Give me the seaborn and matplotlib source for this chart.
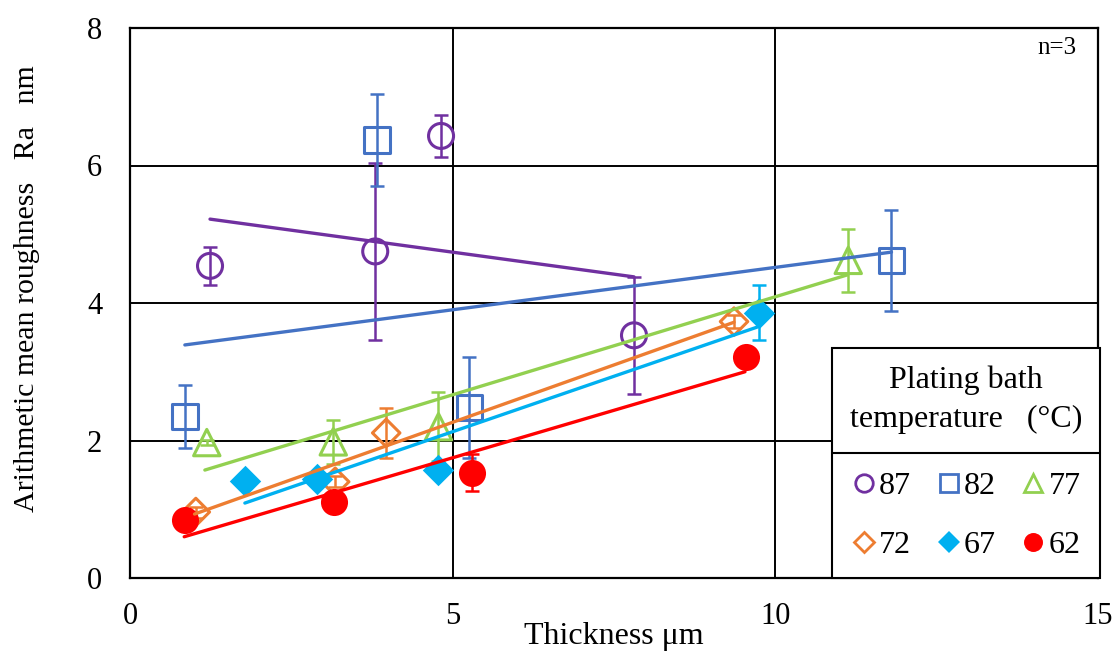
import numpy as np
import pandas as pd
import matplotlib
matplotlib.use("Agg")
import matplotlib.pyplot as plt
from matplotlib.lines import Line2D
import seaborn as sns

# ---- data ----
temps = ["87", "82", "77", "72", "67", "62"]

x87 = [1.24, 3.80, 4.82, 7.81]
y87 = [4.54, 4.75, 6.43, 3.53]
e87 = [0.28, 1.29, 0.30, 0.85]
tx87 = [1.24, 7.81]
ty87 = [5.22, 4.38]

x82 = [0.85, 3.83, 5.26, 11.80]
y82 = [2.35, 6.37, 2.48, 4.62]
e82 = [0.46, 0.67, 0.73, 0.73]
tx82 = [0.85, 11.80]
ty82 = [3.39, 4.74]

x77 = [1.19, 3.15, 4.78, 11.13]
y77 = [1.97, 1.98, 2.20, 4.62]
e77 = [0.04, 0.32, 0.50, 0.46]
tx77 = [1.16, 11.12]
ty77 = [1.57, 4.41]

x72 = [1.02, 3.18, 3.97, 9.36]
y72 = [0.96, 1.40, 2.11, 3.73]
e72 = [0.08, 0.08, 0.36, 0.10]
tx72 = [1.00, 9.36]
ty72 = [0.93, 3.72]

x67 = [1.78, 2.90, 4.78, 9.74]
y67 = [1.41, 1.44, 1.57, 3.86]
e67 = [0.05, 0.08, 0.10, 0.40]
tx67 = [1.78, 9.72]
ty67 = [1.09, 3.65]

x62 = [0.85, 3.16, 5.30, 9.55]
y62 = [0.85, 1.10, 1.53, 3.21]
e62 = [0.04, 0.05, 0.27, 0.05]
tx62 = [0.84, 9.53]
ty62 = [0.60, 3.00]

x_ticks = [0, 5, 10, 15]
y_ticks = [0, 2, 4, 6, 8]

series = [
    ("87", x87, y87, e87, tx87, ty87, "#7030A0", "o", False, 18.0),
    ("82", x82, y82, e82, tx82, ty82, "#4472C4", "s", False, 18.5),
    ("77", x77, y77, e77, tx77, ty77, "#92D050", "^", False, 19.0),
    ("72", x72, y72, e72, tx72, ty72, "#ED7D31", "D", False, 14.0),
    ("67", x67, y67, e67, tx67, ty67, "#00B0F0", "D", True, 16.0),
    ("62", x62, y62, e62, tx62, ty62, "#FF0000", "o", True, 19.5),
]

sns.set_style("white")
plt.rcParams["font.family"] = ["Liberation Serif", "DejaVu Serif"]
plt.rcParams["text.color"] = "black"
plt.rcParams["axes.labelcolor"] = "black"
plt.rcParams["xtick.color"] = "black"
plt.rcParams["ytick.color"] = "black"

fig = plt.figure(figsize=(11.18, 6.57), dpi=100)
ax = fig.add_axes([130 / 1118, 79 / 657, 968 / 1118, 550 / 657])

handles = {}
for lab, xs, ys, es, tx, ty, col, mk, filled, ms in series:
    df = pd.DataFrame({"x": xs, "y": ys})
    ax.errorbar(xs, ys, yerr=es, fmt="none", ecolor=col, elinewidth=1.8,
                capsize=5, capthick=1.8, zorder=3)
    sns.scatterplot(data=df, x="x", y="y", ax=ax, marker=mk, s=ms ** 2,
                    facecolor=(col if filled else "none"), edgecolor=col,
                    linewidth=(0 if filled else 2.2), zorder=4, legend=False)
    tdf = pd.DataFrame({"x": tx, "y": ty})
    sns.lineplot(data=tdf, x="x", y="y", ax=ax, color=col, linewidth=2.4,
                 zorder=5, legend=False)
    handles[lab] = Line2D([], [], linestyle="none", marker=mk,
                          markersize=ms * 0.7,
                          markerfacecolor=(col if filled else "none"),
                          markeredgecolor=col,
                          markeredgewidth=(0 if filled else 2.0),
                          label=lab)

ax.set_xlim(0, 15)
ax.set_ylim(0, 8)
ax.set_xticks(x_ticks)
ax.set_yticks(y_ticks)
ax.set_xticklabels([str(v) for v in x_ticks])
ax.set_yticklabels([str(v) for v in y_ticks])
ax.tick_params(axis="both", length=0, labelsize=22)
ax.tick_params(axis="x", pad=17)
ax.tick_params(axis="y", pad=20)
ax.grid(True, color="black", linewidth=1.4)
ax.set_axisbelow(True)
for sp in ax.spines.values():
    sp.set_visible(True)
    sp.set_color("black")
    sp.set_linewidth(1.6)

ax.set_xlabel("Thickness μm", fontsize=23)
ax.set_ylabel("Arithmetic mean roughness   Ra   nm", fontsize=21.5)
ax.xaxis.set_label_coords(0.5, -0.107)
ax.yaxis.set_label_coords(-0.106, 0.527)
ax.xaxis.label.set_va("center")
ax.yaxis.label.set_va("center")

ax.text(0.978, 0.963, "n=3", transform=ax.transAxes, ha="right", va="center",
        fontsize=18)

# legend filled column-wise -> order so rows read 87 82 77 / 72 67 62
order = ["87", "72", "82", "67", "77", "62"]
leg = ax.legend(handles=[handles[k] for k in order], ncol=3, loc="lower right",
                bbox_to_anchor=(1.002, 0.0), borderaxespad=0.0,
                frameon=True, fancybox=False,
                edgecolor="black", fontsize=23,
                title="Plating bath\ntemperature   (°C)",
                title_fontsize=23, handlelength=0.75, handletextpad=0.1,
                columnspacing=0.8, labelspacing=0.95, borderpad=0.55,
                framealpha=1)
leg.get_frame().set_linewidth(1.5)
leg.get_title().set_multialignment("center")
leg.get_title().set_linespacing(1.45)
leg._legend_box.sep = 0.95 * 23 + 5
leg.set_zorder(10)

fig.canvas.draw()
r = fig.canvas.get_renderer()
lb = leg.get_window_extent(r)
tb = leg.get_title().get_window_extent(r)
hb = leg._legend_handle_box.get_window_extent(r)
ysep = 0.5 * (tb.y0 + hb.y1)
inv = fig.transFigure.inverted()
(fx0, fy), (fx1, _) = inv.transform([(lb.x0, ysep), (lb.x1, ysep)])
fig.add_artist(Line2D([fx0, fx1], [fy, fy], color="black", linewidth=1.5,
                      zorder=11))

fig.savefig("out.png", dpi=100)
